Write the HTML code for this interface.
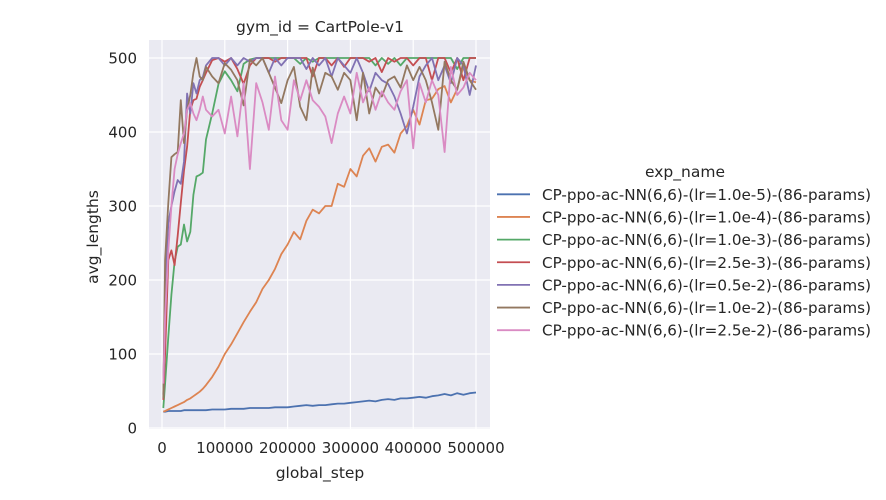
<!DOCTYPE html>
<html><head><meta charset="utf-8"><style>
html,body{margin:0;padding:0;background:#fff;}
svg{display:block;font-family:"DejaVu Sans","Liberation Sans",sans-serif;}
</style></head><body>
<svg id="chart" width="886" height="500" viewBox="0 0 886 500">
<rect x="149" y="40" width="341" height="389" fill="#eaeaf2"/>
<g id="grid"></g>
<g id="series"></g>
<g id="ticks" font-size="15" fill="#262626"></g>
<text x="320" y="32" text-anchor="middle" font-size="15.5" fill="#262626">gym_id = CartPole-v1</text>
<text x="320" y="478" text-anchor="middle" font-size="15.5" fill="#262626">global_step</text>
<text transform="translate(98,237) rotate(-90)" text-anchor="middle" font-size="15.5" fill="#262626">avg_lengths</text>
<g id="legend">
<text x="685" y="177" text-anchor="middle" font-size="15.5" fill="#262626">exp_name</text>
</g>
</svg>
<script>
const xs=[2000,5000,10000,15000,20000,25000,30000,35000,40000,45000,50000,55000,60000,65000,70000,80000,90000,100000,110000,120000,130000,140000,150000,160000,170000,180000,190000,200000,210000,220000,230000,240000,250000,260000,270000,280000,290000,300000,310000,320000,330000,340000,350000,360000,370000,380000,390000,400000,410000,420000,430000,440000,450000,460000,470000,480000,490000,500000];
const names=["CP-ppo-ac-NN(6,6)-(lr=1.0e-5)-(86-params)","CP-ppo-ac-NN(6,6)-(lr=1.0e-4)-(86-params)","CP-ppo-ac-NN(6,6)-(lr=1.0e-3)-(86-params)","CP-ppo-ac-NN(6,6)-(lr=2.5e-3)-(86-params)","CP-ppo-ac-NN(6,6)-(lr=0.5e-2)-(86-params)","CP-ppo-ac-NN(6,6)-(lr=1.0e-2)-(86-params)","CP-ppo-ac-NN(6,6)-(lr=2.5e-2)-(86-params)"];
const blue=[22,22,23,23,23,23,23,24,24,24,24,24,24,24,24,25,25,25,26,26,26,27,27,27,27,28,28,28,29,30,31,30,31,31,32,33,33,34,35,36,37,36,38,39,38,40,40,41,42,41,43,44,46,44,47,45,47,48];
const orange=[22,23,25,27,29,31,33,35,38,40,43,46,49,53,58,69,83,100,113,128,143,157,170,188,200,215,235,248,265,255,280,295,290,300,300,330,326,350,340,368,378,360,380,383,372,398,408,430,410,443,445,458,462,440,458,488,470,467];
const green=[27,60,123,180,225,245,248,275,252,265,315,340,342,345,390,425,465,482,470,455,492,498,500,500,500,500,500,500,500,492,500,495,500,500,500,500,500,500,500,500,500,490,500,492,500,490,500,500,500,500,500,500,500,500,485,500,500,500];
const red=[38,100,227,240,220,260,304,348,380,430,443,445,461,470,480,497,500,495,500,485,465,490,500,500,500,495,500,500,500,500,500,475,500,500,490,500,488,500,500,500,495,500,481,500,495,500,500,490,500,500,470,500,500,480,500,470,500,500];
const purple=[45,180,277,300,320,335,330,360,452,425,466,452,470,474,490,500,500,490,500,490,500,495,500,500,480,500,490,500,500,500,485,500,490,500,475,500,490,480,500,480,455,480,470,465,448,425,398,434,475,490,500,470,490,466,500,490,450,490];
const brown=[40,227,304,366,370,373,443,385,430,450,480,500,475,470,488,475,466,493,484,470,436,498,490,500,480,460,439,470,488,434,416,487,452,480,475,457,480,470,416,480,425,460,448,470,475,460,490,470,488,470,440,403,495,470,457,495,470,457];
const pink=[60,150,240,300,350,370,385,398,430,439,425,416,430,448,430,421,430,398,448,394,466,350,466,440,403,475,416,403,470,443,470,443,434,421,385,425,448,425,480,440,460,430,455,440,430,455,470,378,466,440,470,450,373,488,450,460,480,470];
const series=[blue,orange,green,red,purple,brown,pink];
const colors=["#4c72b0","#dd8452","#55a868","#c44e52","#8172b3","#937860","#da8bc3"];
const xTicks=[0,100000,200000,300000,400000,500000];
const yTicks=[0,100,200,300,400,500];
const NS="http://www.w3.org/2000/svg";
function X(v){return 162+v*0.000628;}
function Y(v){return 428-v*0.74;}
function mk(tag,attrs,parent){const e=document.createElementNS(NS,tag);for(const k in attrs)e.setAttribute(k,attrs[k]);parent.appendChild(e);return e;}
const grid=document.getElementById('grid'),ticks=document.getElementById('ticks'),sg=document.getElementById('series'),lg=document.getElementById('legend');
xTicks.forEach(t=>{
  const l=mk('line',{x1:X(t),x2:X(t),y1:40,y2:429,stroke:'#fff','stroke-width':1.2},grid);
  
  
  const tx=mk('text',{x:X(t),y:453,'text-anchor':'middle'},ticks);
  tx.textContent=String(t);
  
  
});
yTicks.forEach(t=>{
  const l=mk('line',{x1:149,x2:490,y1:Y(t),y2:Y(t),stroke:'#fff','stroke-width':1.2},grid);
  
  
  const tx=mk('text',{x:137,y:Y(t)+5.5,'text-anchor':'end'},ticks);
  tx.textContent=String(t);
  
  
});
series.forEach((s,i)=>{
  const d=s.map((v,j)=>(j?'L':'M')+X(xs[j]).toFixed(1)+','+Y(v).toFixed(1)).join(' ');
  const p=mk('path',{d:d,fill:'none',stroke:colors[i],'stroke-width':1.8,'stroke-linejoin':'round'},sg);
  
  
  const ly=194.3+i*22.65;
  const ll=mk('line',{x1:497,x2:530,y1:ly,y2:ly,stroke:colors[i],'stroke-width':1.8},lg);
  
  
  const lt=mk('text',{x:542,y:ly+5.5,'font-size':15,fill:'#262626',textLength:329,lengthAdjust:'spacingAndGlyphs'},lg);
  lt.textContent=names[i];
  
  
});
</script>
</body></html>
